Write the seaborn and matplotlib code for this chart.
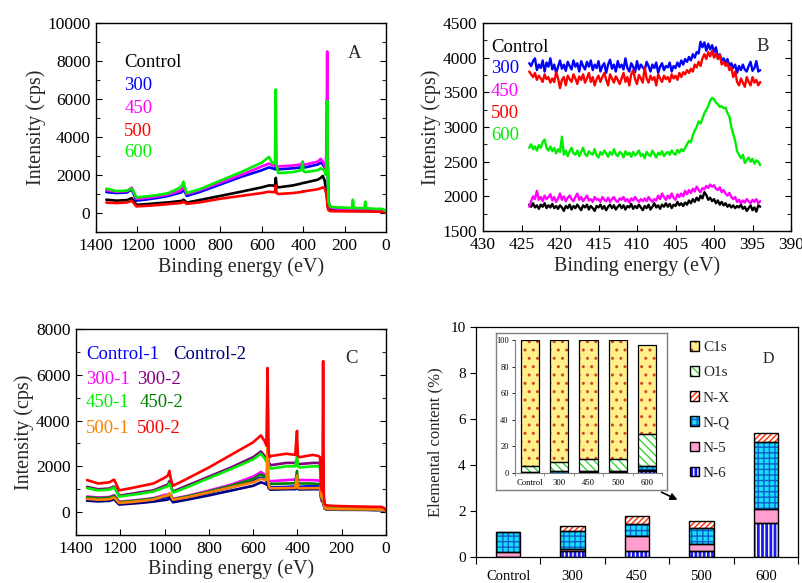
import numpy as np
import pandas as pd
import matplotlib
matplotlib.use("Agg")
import matplotlib.pyplot as plt
import seaborn as sns
from matplotlib.patches import Patch
from matplotlib.ticker import MultipleLocator

# ---------------- Panel A : survey spectra ----------------
a_energy = [1350, 1300, 1250, 1228, 1222, 1205, 1150, 1100, 1050, 1000, 985, 978, 972, 962,
            900, 800, 700, 600, 565, 548, 536, 532, 528, 520, 450, 410, 402, 398, 390, 330,
            315, 305, 296, 290, 286, 284, 282, 278, 270, 250, 200, 165, 160, 155, 105, 100,
            95, 50, 20, 5, 0]
a_control = [700, 650, 680, 780, 700, 430, 470, 520, 560, 620, 640, 700, 650, 550,
             680, 900, 1120, 1350, 1450, 1450, 1420, 1850, 1400, 1350, 1450, 1550, 1580, 1580, 1600, 1750,
             1850, 1950, 1700, 1200, 900, 700, 400, 250, 150, 130, 120, 115, 115, 115, 110, 110,
             110, 100, 90, 60, 40]
a_300 = [1100, 1050, 1080, 1250, 1100, 650, 720, 800, 900, 1050, 1100, 1250, 1150, 900,
         1100, 1500, 1900, 2250, 2400, 2350, 2300, 2500, 2300, 2300, 2350, 2400, 2500, 2400, 2400, 2550,
         2650, 2550, 2400, 2200, 4000, 6000, 3000, 500, 280, 230, 210, 200, 200, 200, 190, 190,
         190, 170, 160, 110, 50]
a_450 = [1200, 1120, 1150, 1330, 1200, 750, 800, 880, 980, 1150, 1250, 1350, 1250, 1000,
         1200, 1600, 2000, 2450, 2600, 2500, 2500, 2700, 2450, 2450, 2500, 2550, 2700, 2550, 2550, 2700,
         2850, 2700, 2500, 2300, 5000, 8500, 4000, 700, 300, 250, 230, 220, 220, 220, 200, 200,
         200, 180, 170, 120, 60]
a_500 = [550, 520, 560, 640, 580, 350, 380, 420, 470, 520, 540, 600, 560, 480,
         560, 750, 900, 1050, 1120, 1100, 1100, 1450, 1050, 1000, 1050, 1100, 1150, 1120, 1150, 1250,
         1300, 1350, 1300, 1100, 900, 600, 300, 150, 100, 90, 90, 85, 85, 85, 80, 80,
         80, 70, 60, 40, 20]
a_600 = [1280, 1150, 1180, 1280, 1200, 820, 880, 950, 1050, 1300, 1450, 1650, 1400, 1050,
         1250, 1700, 2150, 2650, 2950, 2600, 2700, 6500, 2500, 2100, 2150, 2250, 2700, 2200, 2150, 2250,
         2350, 2300, 2200, 2000, 3500, 5900, 2500, 600, 350, 300, 280, 260, 700, 260, 250, 600,
         250, 220, 220, 150, 80]
a_names = ["Control", "300", "450", "500", "600"]
a_colors = ["#000000", "#0000FF", "#FF00FF", "#FF0000", "#00EE00"]

# ---------------- Panel B : N1s region ----------------
b_energy = [424.0, 423.75, 423.5, 423.25, 423.0, 422.75, 422.5, 422.25, 422.0, 421.75, 421.5, 421.25,
            421.0, 420.75, 420.5, 420.25, 420.0, 419.75, 419.5, 419.25, 419.0, 418.75, 418.5, 418.25,
            418.0, 417.75, 417.5, 417.25, 417.0, 416.75, 416.5, 416.25, 416.0, 415.75, 415.5, 415.25,
            415.0, 414.75, 414.5, 414.25, 414.0, 413.75, 413.5, 413.25, 413.0, 412.75, 412.5, 412.25,
            412.0, 411.75, 411.5, 411.25, 411.0, 410.75, 410.5, 410.25, 410.0, 409.75, 409.5, 409.25,
            409.0, 408.75, 408.5, 408.25, 408.0, 407.75, 407.5, 407.25, 407.0, 406.75, 406.5, 406.25,
            406.0, 405.75, 405.5, 405.25, 405.0, 404.75, 404.5, 404.25, 404.0, 403.75, 403.5, 403.25,
            403.0, 402.75, 402.5, 402.25, 402.0, 401.75, 401.5, 401.25, 401.0, 400.75, 400.5, 400.25,
            400.0, 399.75, 399.5, 399.25, 399.0, 398.75, 398.5, 398.25, 398.0, 397.75, 397.5, 397.25,
            397.0, 396.75, 396.5, 396.25, 396.0, 395.75, 395.5, 395.25, 395.0, 394.75, 394.5, 394.25,
            394.0]
b_control = [1880, 1850, 1900, 1840, 1870, 1820, 1880, 1850, 1900, 1830, 1870, 1840,
             1890, 1830, 1860, 1820, 1870, 1840, 1790, 1860, 1830, 1880, 1810, 1860,
             1830, 1880, 1840, 1800, 1870, 1840, 1880, 1810, 1860, 1830, 1790, 1860,
             1840, 1880, 1820, 1860, 1800, 1850, 1880, 1830, 1870, 1810, 1850, 1880,
             1830, 1870, 1810, 1860, 1840, 1890, 1820, 1860, 1830, 1880, 1840, 1800,
             1860, 1830, 1880, 1810, 1850, 1900, 1840, 1870, 1820, 1880, 1850, 1900,
             1850, 1890, 1830, 1880, 1860, 1920, 1870, 1900, 1860, 1910, 1880, 1940,
             1900, 1960, 1920, 1980, 1940, 2010, 1970, 2060, 2020, 1950, 1980, 1930,
             1960, 1900, 1940, 1880, 1920, 1870, 1900, 1850, 1880, 1840, 1870, 1830,
             1860, 1840, 1880, 1820, 1850, 1790, 1830, 1870, 1800, 1840, 1780, 1870,
             1850]
b_300 = [3920, 3880, 3950, 3990, 3820, 3900, 3850, 3960, 3800, 3930, 3870, 3990,
         3830, 3900, 3780, 3870, 3960, 3840, 3900, 3810, 3940, 3880, 3830, 3960,
         3870, 3920, 3800, 3950, 3880, 3830, 3940, 3870, 3960, 3820, 3900, 3850,
         3950, 3800, 3880, 3920, 3780, 3900, 3970, 3840, 3900, 3800, 3950, 3860,
         3900, 3830, 3990, 3850, 3800, 3920, 3870, 3790, 3950, 3830, 3900, 3860,
         3820, 3940, 3880, 3800, 3900, 3850, 3930, 3780, 3870, 3920, 3820, 3880,
         3860, 3930, 3800, 3880, 3850, 3930, 3870, 3960, 3900, 3980, 3940, 4010,
         3960, 4050, 4000, 4080, 4060, 4230, 4150, 4220, 4100, 4200, 4120, 4180,
         4080, 4150, 4000, 4050, 3960, 3990, 3920, 3980, 3880, 3920, 3850, 3900,
         3780, 3880, 3820, 3900, 3830, 3800, 3880, 3940, 3810, 3850, 3950, 3800,
         3820]
b_450 = [1850, 1930, 2000, 1960, 2080, 1950, 1990, 1930, 2010, 1960, 1990, 2030,
         1940, 1990, 1920, 1970, 2040, 1950, 2000, 1930, 1980, 2010, 1960, 1930,
         1990, 2040, 1950, 1990, 1930, 1970, 2010, 1940, 1960, 1920, 1990, 1950,
         1960, 1920, 1990, 1950, 1930, 1980, 1920, 1960, 1990, 1940, 1920, 1970,
         1950, 1990, 1930, 1960, 1910, 1970, 1940, 1990, 1950, 1920, 1960, 1930,
         1970, 1930, 1990, 1950, 1920, 1960, 1940, 2010, 1960, 2040, 1990, 1950,
         2010, 1970, 2040, 1980, 1950, 2030, 1990, 2040, 2000, 2080, 2030, 2090,
         2050, 2110, 2070, 2140, 2090, 2060, 2120, 2100, 2150, 2120, 2170, 2140,
         2160, 2110, 2090, 2130, 2060, 2090, 2040, 2010, 2050, 1990, 1960, 1990,
         1920, 1950, 1900, 1940, 1910, 1960, 1930, 1900, 1950, 1920, 1960, 1900,
         1930]
b_500 = [3800, 3760, 3720, 3780, 3680, 3740, 3700, 3650, 3760, 3690, 3720, 3640,
         3700, 3650, 3790, 3700, 3560, 3680, 3720, 3600, 3740, 3690, 3650, 3760,
         3700, 3620, 3730, 3680, 3760, 3640, 3700, 3780, 3650, 3720, 3600, 3690,
         3740, 3650, 3720, 3780, 3680, 3600, 3760, 3700, 3640, 3730, 3680, 3620,
         3700, 3780, 3650, 3720, 3600, 3760, 3820, 3690, 3620, 3750, 3700, 3640,
         3860, 3700, 3640, 3740, 3680, 3720, 3600, 3760, 3700, 3650, 3740, 3690,
         3720, 3650, 3760, 3700, 3740, 3680, 3780, 3720, 3790, 3760, 3820, 3780,
         3840, 3800, 3900, 3860, 3940, 3880, 3990, 4050, 3980, 4080, 4020, 4100,
         4000, 4060, 3980, 4040, 3900, 3940, 3880, 3920, 3820, 3860, 3720, 3800,
         3650, 3600, 3700, 3640, 3580, 3720, 3650, 3600, 3720, 3640, 3680, 3600,
         3650]
b_600 = [2700, 2750, 2680, 2720, 2660, 2740, 2700, 2780, 2820, 2700, 2660, 2720,
         2650, 2700, 2620, 2680, 2640, 2860, 2600, 2660, 2580, 2650, 2700, 2620,
         2600, 2660, 2580, 2640, 2700, 2610, 2580, 2650, 2620, 2600, 2680, 2590,
         2560, 2640, 2600, 2660, 2620, 2570, 2640, 2600, 2680, 2610, 2580, 2640,
         2620, 2560, 2650, 2600, 2630, 2570, 2640, 2590, 2620, 2660, 2580, 2610,
         2550, 2640, 2600, 2580, 2660, 2610, 2560, 2630, 2600, 2650, 2580, 2620,
         2640, 2600, 2660, 2620, 2600, 2670, 2630, 2680, 2650, 2700, 2750, 2800,
         2780, 2880, 2950, 3000, 3080, 3050, 3120, 3200, 3250, 3300, 3380, 3420,
         3400, 3350, 3330, 3290, 3300, 3270, 3280, 3200, 3150, 3000, 2900, 2800,
         2650, 2600, 2550, 2600, 2480, 2520, 2560, 2500, 2540, 2470, 2520, 2500,
         2450]

# ---------------- Panel C : duplicate surveys ----------------
c_energy = [1350, 1300, 1250, 1228, 1222, 1205, 1150, 1100, 1050, 1000, 985, 978, 972, 962,
            900, 800, 700, 600, 565, 548, 540, 535, 530, 525, 520, 450, 410, 402, 398, 390,
            330, 305, 298, 292, 287, 284, 281, 277, 270, 250, 200, 100, 50, 20, 5, 0]
c_control1 = [620, 580, 600, 680, 620, 420, 460, 500, 560, 640, 660, 720, 660, 520,
              640, 850, 1080, 1350, 1500, 1450, 1350, 1450, 1200, 1100, 1080, 1100, 1120, 1300, 1100, 1100,
              1150, 1120, 1100, 600, 500, 700, 350, 180, 140, 130, 120, 110, 100, 100, 70, 40]
c_control2 = [500, 470, 490, 560, 500, 330, 370, 410, 460, 530, 550, 620, 560, 430,
              540, 730, 940, 1150, 1300, 1250, 1200, 1300, 1050, 1000, 980, 1000, 1000, 1150, 1000, 990,
              1000, 1000, 1000, 550, 450, 650, 300, 160, 120, 110, 100, 100, 90, 90, 60, 30]
c_300_1 = [680, 640, 660, 740, 680, 450, 500, 550, 610, 750, 770, 800, 760, 580,
           700, 940, 1200, 1550, 1750, 1650, 1550, 1650, 1400, 1350, 1350, 1400, 1420, 1500, 1400, 1400,
           1400, 1380, 1350, 500, 450, 650, 300, 170, 130, 120, 110, 100, 100, 100, 70, 40]
c_300_2 = [1100, 1000, 1030, 1120, 1030, 720, 800, 880, 950, 1150, 1200, 1350, 1150, 900,
           1150, 1550, 1950, 2400, 2650, 2450, 2300, 2500, 2200, 2100, 2050, 2150, 2150, 2300, 2100, 2100,
           2150, 2150, 2100, 800, 700, 900, 500, 250, 200, 190, 180, 170, 160, 160, 110, 60]
c_450_1 = [1050, 950, 980, 1080, 980, 680, 750, 820, 900, 1080, 1130, 1250, 1100, 850,
           1080, 1480, 1880, 2300, 2550, 2350, 2200, 2400, 2050, 1950, 1900, 2000, 2000, 2450, 2000, 1950,
           2000, 2000, 1950, 750, 650, 850, 450, 240, 190, 180, 170, 160, 150, 150, 100, 55]
c_450_2 = [650, 610, 630, 710, 650, 430, 480, 530, 590, 700, 720, 780, 720, 560,
           680, 900, 1150, 1450, 1650, 1550, 1450, 1550, 1300, 1250, 1230, 1250, 1260, 1800, 1250, 1250,
           1250, 1220, 1200, 600, 500, 700, 320, 180, 140, 130, 120, 110, 100, 100, 70, 40]
c_500_1 = [580, 540, 560, 640, 580, 400, 440, 490, 550, 700, 730, 820, 740, 540,
           640, 860, 1080, 1300, 1450, 1420, 1400, 2900, 1200, 1050, 1040, 1050, 1060, 1600, 1050, 1040,
           1050, 1050, 1050, 700, 600, 1000, 400, 200, 160, 150, 140, 130, 120, 110, 80, 50]
c_500_2 = [1400, 1250, 1300, 1420, 1300, 950, 1050, 1150, 1250, 1500, 1600, 1800, 1450, 1150,
           1450, 1950, 2500, 3050, 3350, 3100, 2900, 6300, 2600, 2400, 2450, 2550, 2500, 3550, 2450, 2400,
           2500, 2450, 2400, 1000, 900, 6600, 800, 350, 300, 280, 260, 240, 230, 230, 150, 80]
c_names = ["Control-1", "Control-2", "300-1", "300-2", "450-1", "450-2", "500-1", "500-2"]
c_colors = ["#0000FF", "#000080", "#FF00FF", "#800080", "#00EE00", "#008000", "#FF8000", "#FF0000"]

# ---------------- Panel D : elemental content ----------------
d_categories = ["Control", "300", "450", "500", "600"]
d_n6 = [0.00, 0.26, 0.26, 0.26, 1.50]
d_n5 = [0.22, 0.10, 0.66, 0.32, 0.59]
d_nq = [0.85, 0.77, 0.53, 0.70, 2.90]
d_nx = [0.02, 0.22, 0.34, 0.29, 0.39]
# inset (atomic %)
d_o1s = [4.0, 7.1, 9.0, 8.7, 23.9]
d_c1s = [95.0, 91.5, 89.2, 89.7, 66.8]

# ---------------- styling ----------------
sns.set_theme(style="ticks")
plt.rcParams["font.family"] = ["Liberation Serif", "DejaVu Serif"]
plt.rcParams["hatch.linewidth"] = 1.0

fig = plt.figure(figsize=(8.03, 5.83), dpi=100)
W, H = 803.0, 583.0


def add_ax(left, top, right, bottom):
    return fig.add_axes([left / W, 1 - bottom / H, (right - left) / W, (bottom - top) / H])


def long_df(energy, names, series):
    rows = []
    for n, s in zip(names, series):
        rows.append(pd.DataFrame({"energy": energy, "intensity": s, "sample": n}))
    return pd.concat(rows, ignore_index=True)


def style_spec_ax(ax, ymajor, yminor, xmajor, xlabelpad=3):
    for sp in ax.spines.values():
        sp.set_visible(True)
        sp.set_color("black")
        sp.set_linewidth(1.0)
    ax.xaxis.set_major_locator(MultipleLocator(xmajor))
    ax.yaxis.set_major_locator(MultipleLocator(ymajor))
    ax.yaxis.set_minor_locator(MultipleLocator(yminor))
    ax.tick_params(axis="both", which="major", labelsize=12.5, direction="in",
                   length=4, width=0.8, colors="black", pad=4)
    ax.tick_params(axis="y", which="both", right=True, direction="in")
    ax.tick_params(axis="y", which="minor", length=3, width=0.8)
    ax.set_xlabel("Binding energy (eV)", fontsize=14.5, labelpad=xlabelpad)
    ax.set_ylabel("Intensity (cps)", fontsize=14.5, labelpad=1)
    ax.grid(False)
    ax.set_facecolor("white")


# Panel A
axA = add_ax(96, 23, 386, 232)
dfA = long_df(a_energy, a_names, [a_control, a_300, a_450, a_500, a_600])
sns.lineplot(data=dfA, x="energy", y="intensity", hue="sample", hue_order=a_names,
             palette=a_colors, estimator=None, sort=False, legend=False, lw=1.9, ax=axA)
axA.set_xlim(1400, 0)
axA.set_ylim(-1000, 10000)
axA.set_yticks(range(0, 10001, 2000))
style_spec_ax(axA, 2000, 1000, 200)
for lab, col, yy in zip(a_names, a_colors, [0.813, 0.699, 0.593, 0.483, 0.378]):
    axA.text(0.097, yy, lab, color=col, fontsize=13.5, va="center", ha="left", transform=axA.transAxes)
axA.text(0.89, 0.852, "A", fontsize=13.5, va="center", ha="center", transform=axA.transAxes)

# Panel B
axB = add_ax(483, 23, 791, 231)
dfB = long_df(b_energy, a_names, [b_control, b_300, b_450, b_500, b_600])
sns.lineplot(data=dfB, x="energy", y="intensity", hue="sample", hue_order=a_names,
             palette=a_colors, estimator=None, sort=False, legend=False, lw=1.7, ax=axB)
axB.set_xlim(430, 390)
axB.set_ylim(1500, 4500)
style_spec_ax(axB, 500, 250, 5)
for lab, col, yy in zip(a_names, a_colors, [0.88, 0.779, 0.673, 0.567, 0.457]):
    axB.text(0.026, yy, lab, color=col, fontsize=13.5, va="center", ha="left", transform=axB.transAxes)
axB.text(0.909, 0.889, "B", fontsize=13.5, va="center", ha="center", transform=axB.transAxes)

# Panel C
axC = add_ax(76, 329, 386, 535)
dfC = long_df(c_energy, c_names, [c_control1, c_control2, c_300_1, c_300_2,
                                  c_450_1, c_450_2, c_500_1, c_500_2])
sns.lineplot(data=dfC, x="energy", y="intensity", hue="sample", hue_order=c_names,
             palette=c_colors, estimator=None, sort=False, legend=False, lw=1.9, ax=axC)
axC.set_xlim(1400, 0)
axC.set_ylim(-1000, 8000)
axC.set_yticks(range(0, 8001, 2000))
style_spec_ax(axC, 2000, 1000, 200, xlabelpad=2)
c_text_pos = [(0.032, 0.874), (0.313, 0.874), (0.032, 0.757), (0.197, 0.757),
              (0.032, 0.641), (0.206, 0.641), (0.032, 0.519), (0.197, 0.519)]
for lab, col, (xx, yy) in zip(c_names, c_colors, c_text_pos):
    axC.text(xx, yy, lab, color=col, fontsize=13.5, va="center", ha="left", transform=axC.transAxes)
axC.text(0.89, 0.859, "C", fontsize=13.5, va="center", ha="center", transform=axC.transAxes)

# Panel D
comp_styles = {
    "N-6": dict(fc="#1A1AF0", hc="white", hatch="||||"),
    "N-5": dict(fc="#FF9ECF", hc="#FF9ECF", hatch=None),
    "N-Q": dict(fc="#18DDFF", hc="#0E5FC8", hatch="+++"),
    "N-X": dict(fc="#FFFFFF", hc="#FF2A00", hatch="//////"),
    "O1s": dict(fc="#FFFFFF", hc="#33D633", hatch="\\\\\\\\"),
    "C1s": dict(fc="#FFF08A", hc="#D2482A", hatch=".."),
}


def stacked(ax, x, comps, width, lw):
    bottom = np.zeros(len(x))
    for name, vals in comps:
        st = comp_styles[name]
        ax.bar(x, vals, width=width, bottom=bottom, color=st["fc"], edgecolor=st["hc"],
               hatch=st["hatch"], linewidth=0, zorder=2)
        ax.bar(x, vals, width=width, bottom=bottom, fill=False, edgecolor="black",
               linewidth=lw, zorder=3)
        bottom = bottom + np.array(vals)


axD = add_ax(476, 327, 798, 557)
xD = np.arange(len(d_categories))
stacked(axD, xD, [("N-6", d_n6), ("N-5", d_n5), ("N-Q", d_nq), ("N-X", d_nx)], 0.38, 1.0)
axD.set_xlim(-0.5, 4.5)
axD.set_ylim(0, 10)
axD.set_yticks(range(0, 11, 2))
axD.set_xticks(xD)
axD.set_xticklabels(d_categories)
axD.set_xticks(np.arange(-0.5, 4.6, 1.0), minor=True)
axD.tick_params(axis="x", which="major", length=0, labelsize=10.5, pad=9, colors="black")
axD.tick_params(axis="x", which="minor", length=5, width=0.8, direction="out", colors="black")
axD.tick_params(axis="y", which="major", length=4, width=0.8, direction="out", labelsize=11, colors="black")
for sp in axD.spines.values():
    sp.set_visible(True)
    sp.set_color("black")
    sp.set_linewidth(0.9)
axD.set_ylabel("Elemental content (%)", fontsize=12, labelpad=5)
axD.grid(False)
axD.text(0.907, 0.861, "D", fontsize=11.5, va="center", ha="center", transform=axD.transAxes)

leg_order = ["C1s", "O1s", "N-X", "N-Q", "N-5", "N-6"]
handles = []
for name in leg_order:
    st = comp_styles[name]
    handles.append((Patch(facecolor=st["fc"], edgecolor=st["hc"], hatch=st["hatch"], linewidth=0),
                    Patch(fill=False, edgecolor="black", linewidth=1.0)))
axD.legend(handles, leg_order, loc="upper left", bbox_to_anchor=(690 / W, 1 - 341 / H),
           bbox_transform=fig.transFigure, frameon=False, fontsize=11, handlelength=0.6,
           handleheight=0.6, handletextpad=0.25, labelspacing=0.78, borderpad=0, borderaxespad=0)

# inset
axO = add_ax(496, 333, 667, 490)
axO.set_xticks([])
axO.set_yticks([])
axO.set_facecolor("white")
for sp in axO.spines.values():
    sp.set_visible(True)
    sp.set_color("#7F7F7F")
    sp.set_linewidth(1.0)
axO.set_zorder(5)

axI = add_ax(515, 340, 662, 473)
axI.set_zorder(6)
axI.patch.set_alpha(0)
stacked(axI, xD, [("N-6", d_n6), ("N-5", d_n5), ("N-Q", d_nq), ("N-X", d_nx),
                  ("O1s", d_o1s), ("C1s", d_c1s)], 0.62, 0.9)
axI.set_xlim(-0.5, 4.5)
axI.set_ylim(0, 100)
axI.set_yticks(range(0, 101, 20))
axI.set_xticks(xD)
axI.set_xticklabels(d_categories)
axI.set_xticks(np.arange(-0.5, 4.6, 1.0), minor=True)
axI.tick_params(axis="x", which="major", length=0, labelsize=6.2, pad=4, colors="black")
axI.tick_params(axis="x", which="minor", length=2.5, width=0.6, direction="out", colors="#7F7F7F")
axI.tick_params(axis="y", which="major", length=2.5, width=0.6, labelsize=6, pad=2, colors="black")
axI.spines["top"].set_visible(False)
axI.spines["right"].set_visible(False)
for s in ["left", "bottom"]:
    axI.spines[s].set_color("#7F7F7F")
    axI.spines[s].set_linewidth(0.8)
axI.grid(False)

fig.add_artist(matplotlib.patches.FancyArrowPatch(
    (659 / W, 1 - 491 / H), (680 / W, 1 - 501 / H), transform=fig.transFigure,
    arrowstyle="-|>", mutation_scale=10, color="black", lw=1.2))

fig.savefig("out.png", dpi=100)
